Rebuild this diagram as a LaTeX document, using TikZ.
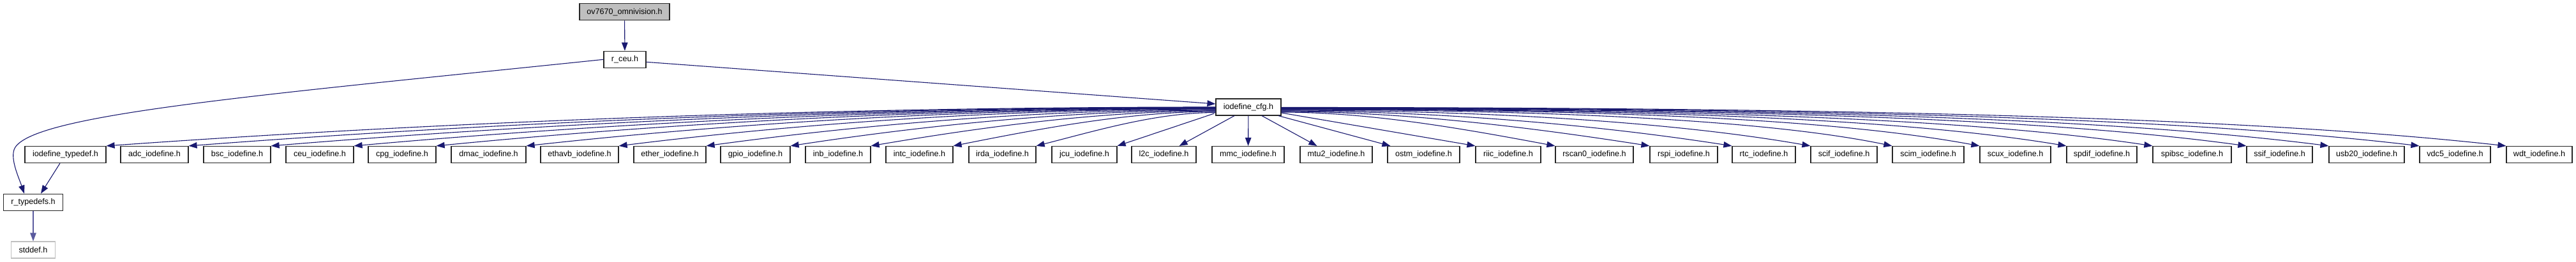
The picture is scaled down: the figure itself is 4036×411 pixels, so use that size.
\documentclass[tikz,border=0pt]{standalone}
\usepackage{fontspec}
\setmainfont{Liberation Sans}
\usetikzlibrary{arrows.meta,calc}
\definecolor{edgeblue}{HTML}{191970}
\definecolor{lightedge}{HTML}{5A5A9E}
\definecolor{rootgray}{HTML}{BFBFBF}
\tikzset{
  box/.style={draw=black!85, line width=1.2pt, fill=white, minimum height=26pt, inner sep=0pt,
    font=\fontsize{12.6}{15}\selectfont, text=black},
  edge/.style={draw=edgeblue, line width=1.1pt, -{Triangle[length=13pt,width=9.5pt]}},
}
% #1 start, #2 target, #3 a (x frac of ctrl1), #4 b (x frac of ctrl2), #5 c (y frac of ctrl2)
\newcommand\cedge[5]{%
  \coordinate (s) at (#1); \coordinate (t) at (#2);
  \coordinate (qa) at ($(s)!#3!(t)$);
  \coordinate (qb) at ($(s)!#4!(t)$);
  \coordinate (qc) at ($(s)!#5!(t)$);
  \draw[edge] (s) .. controls (qa |- s) and (qb |- qc) .. (t);}
\begin{document}
\begin{tikzpicture}[x=1pt,y=-1pt]
\useasboundingbox[fill=white] (0,0) rectangle (4036,411);
% top
\node[box, fill=rootgray, minimum width=141pt] (ov) at (978.5,18.7) {ov7670\_omnivision.h};
\node[box, minimum width=66pt] (rceu) at (979,93.3) {r\_ceu.h};
\node[box, minimum width=102pt] (cfg) at (1956,168) {iodefine\_cfg.h};
\node[box, minimum width=93pt] (rtd) at (52,317.3) {r\_typedefs.h};
\node[box, draw=rootgray, minimum width=69pt] (std) at (52,392) {stddef.h};
% bottom row
\foreach \nm/\cx/\w/\tx in {
 itd/102.5/127/iodefine\_typedef.h,
 adc/242/106/adc\_iodefine.h,
 bsc/371.5/105/bsc\_iodefine.h,
 ceu/501/106/ceu\_iodefine.h,
 cpg/630/106/cpg\_iodefine.h,
 dmac/765.5/117/dmac\_iodefine.h,
 ethavb/908/122/ethavb\_iodefine.h,
 ether/1049.5/113/ether\_iodefine.h,
 gpio/1183.5/109/gpio\_iodefine.h,
 inb/1313/102/inb\_iodefine.h,
 intc/1440.5/105/intc\_iodefine.h,
 irda/1570.5/105/irda\_iodefine.h,
 jcu/1699/102/jcu\_iodefine.h,
 ltc/1823.5/101/l2c\_iodefine.h,
 mmc/1955.5/113/mmc\_iodefine.h,
 mtu/2093.5/113/mtu2\_iodefine.h,
 ostm/2230.5/113/ostm\_iodefine.h,
 riic/2363/102/riic\_iodefine.h,
 rscan/2498/122/rscan0\_iodefine.h,
 rspi/2638/106/rspi\_iodefine.h,
 rtc/2763.5/99/rtc\_iodefine.h,
 scif/2889/104/scif\_iodefine.h,
 scim/3021/112/scim\_iodefine.h,
 scux/3157.5/111/scux\_iodefine.h,
 spdif/3293/110/spdif\_iodefine.h,
 spibsc/3434.5/123/spibsc\_iodefine.h,
 ssif/3571.5/103/ssif\_iodefine.h,
 usb/3708/118/usb20\_iodefine.h,
 vdc/3846.5/111/vdc5\_iodefine.h,
 wdt/3978.5/103/wdt\_iodefine.h}
 {\node[box, minimum width=\w pt] (\nm) at (\cx,242.5) {\tx};}
% edges top
\draw[edge] (ov) -- (rceu);
\draw[edge] ([yshift=-4pt]rceu.east) -- ([yshift=5pt]cfg.west);
\draw[edge] (rceu.west) .. controls (400,150) and (40,180) .. (22,235)
  .. controls (16.6,251.5) and (30,280) .. ([xshift=-14pt]rtd.north);
\draw[edge] ([xshift=-8.5pt]itd.south) -- ([xshift=12pt]rtd.north);
\draw[edge, draw=lightedge] (rtd) -- (std);
% cfg to left
\cedge{[yshift=0pt]cfg.west}{itd.north east}{0.33}{0.67}{0.33}
\cedge{[yshift=-0.5pt]cfg.west}{adc.north east}{0.33}{0.67}{0.33}
\cedge{[yshift=-1pt]cfg.west}{bsc.north east}{0.33}{0.67}{0.33}
\cedge{[yshift=-1.5pt]cfg.west}{ceu.north east}{0.33}{0.67}{0.33}
\cedge{[yshift=-2pt]cfg.west}{cpg.north east}{0.33}{0.67}{0.33}
\cedge{[yshift=-2.5pt]cfg.west}{dmac.north east}{0.33}{0.67}{0.33}
\cedge{[yshift=-3pt]cfg.west}{ethavb.north east}{0.33}{0.67}{0.34}
\cedge{[yshift=-4pt]cfg.west}{ether.north east}{0.33}{0.67}{0.37}
\cedge{[yshift=-5pt]cfg.west}{gpio.north east}{0.33}{0.67}{0.4}
\cedge{[yshift=-6pt]cfg.west}{inb.north east}{0.33}{0.67}{0.45}
\cedge{[yshift=-7pt]cfg.west}{intc.north east}{0.33}{0.67}{0.5}
\cedge{[yshift=-8.5pt]cfg.west}{irda.north east}{0.33}{0.67}{0.55}
\draw[edge] ([shift={(-2pt,-10pt)}]cfg.west) -- (jcu.north east);
\draw[edge] ([xshift=-22pt]cfg.south) -- ([xshift=-27pt]ltc.north east);
\draw[edge] (cfg) -- (mmc);
\draw[edge] ([xshift=21pt]cfg.south) -- ([xshift=27pt]mtu.north west);
\draw[edge] ([xshift=47pt]cfg.south) -- ([xshift=5pt]ostm.north west);
% cfg to right
\draw[edge] ([yshift=-9pt]cfg.east) -- (riic.north west);
\cedge{[yshift=-8pt]cfg.east}{rscan.north west}{0.33}{0.67}{0.5}
\cedge{[yshift=-7pt]cfg.east}{rspi.north west}{0.33}{0.67}{0.45}
\cedge{[yshift=-6pt]cfg.east}{rtc.north west}{0.35}{0.7}{0.4}
\cedge{[yshift=-5pt]cfg.east}{scif.north west}{0.4}{0.75}{0.35}
\cedge{[yshift=-4pt]cfg.east}{scim.north west}{0.45}{0.8}{0.3}
\cedge{[yshift=-3.5pt]cfg.east}{scux.north west}{0.5}{0.8}{0.3}
\cedge{[yshift=-3pt]cfg.east}{spdif.north west}{0.5}{0.8}{0.3}
\cedge{[yshift=-2.5pt]cfg.east}{spibsc.north west}{0.5}{0.8}{0.3}
\cedge{[yshift=-2pt]cfg.east}{ssif.north west}{0.5}{0.8}{0.3}
\cedge{[yshift=-1.5pt]cfg.east}{usb.north west}{0.5}{0.8}{0.3}
\cedge{[yshift=-1pt]cfg.east}{vdc.north west}{0.5}{0.8}{0.3}
\cedge{[yshift=-0.5pt]cfg.east}{wdt.north west}{0.5}{0.8}{0.3}
\end{tikzpicture}
\end{document}
